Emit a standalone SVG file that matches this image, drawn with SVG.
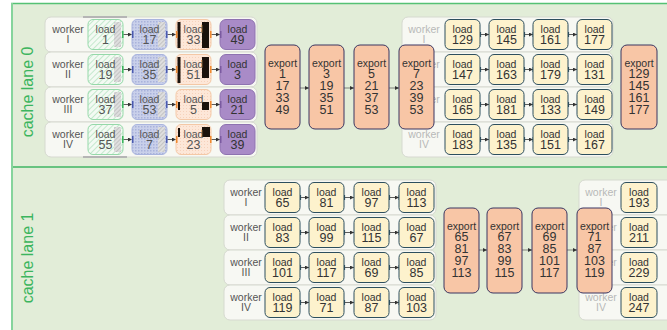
<svg xmlns="http://www.w3.org/2000/svg" width="667" height="330" viewBox="0 0 667 330">
<style>
text{font-family:"Liberation Sans",Arial,sans-serif;text-anchor:middle}
.lane{fill:#e2edd8}
.lt{font-size:16px;fill:#3cb55e}
.row{fill:#f7f8f3;stroke:#d6d9d0;stroke-width:1}
.wk{font-size:10.5px;fill:#555}
.wkf{font-size:10.5px;fill:#b8b8b8}
.ld{fill:#fdf2cd;stroke:#2d4f5e;stroke-width:1}
.c1{fill:url(#pG);stroke:#95d9a9;stroke-width:1}
.c2{fill:url(#pB);stroke:#a9b4de;stroke-width:1}
.c3{fill:url(#pP);stroke:#f4c8a6;stroke-width:1}
.c4{fill:#a98bc7;stroke:#8e72b0;stroke-width:1}
.ex{fill:#f8c6a6;stroke:#3a3560;stroke-width:1}
.t1{font-size:10.5px;fill:#333}
.t2{font-size:12.5px;fill:#333}
.tg{fill:#555}
.cn{stroke:#333;stroke-width:0.8;fill:none;marker-end:url(#ah)}
.cx{stroke:#555;stroke-width:0.7;fill:none;marker-end:url(#ah)}
.pt{fill:#2d4f5e}
.blk{fill:#1a120c}
</style>
<defs>
<marker id="ah" markerUnits="userSpaceOnUse" markerWidth="4" markerHeight="4" refX="4" refY="2" orient="auto"><path d="M0,0 L4,2 L0,4 z" fill="#333"/></marker>
<pattern id="pG" width="4" height="4" patternUnits="userSpaceOnUse" patternTransform="rotate(45)"><rect width="4" height="4" fill="#f3faf3"/><line x1="0" y1="0" x2="0" y2="4" stroke="#a4ddb4" stroke-width="1.2"/></pattern>
<pattern id="pB" width="3" height="3" patternUnits="userSpaceOnUse"><rect width="3" height="3" fill="#c9d0ea"/><rect width="1.5" height="1.5" fill="#a9b3db"/></pattern>
<pattern id="pP" width="3" height="3" patternUnits="userSpaceOnUse"><rect width="3" height="3" fill="#fde7d8"/><rect width="1" height="1" fill="#f6d2bc"/></pattern>
<pattern id="pGr" width="3" height="3" patternUnits="userSpaceOnUse" patternTransform="rotate(45)"><rect width="3" height="3" fill="#dedede"/><line x1="0" y1="0" x2="0" y2="3" stroke="#a8a8a8" stroke-width="1"/></pattern>
</defs>

<g id="lane0">
<rect class="lane" x="11" y="3" width="660" height="164"/>
<line x1="11" y1="3.5" x2="667" y2="3.5" stroke="#55c174" stroke-width="1.5"/>
<text class="lt" transform="translate(33,92) rotate(-90)">cache lane 0</text>
</g>
<g id="lane1">
<rect class="lane" x="11" y="167" width="660" height="170"/>
<line x1="11" y1="167" x2="667" y2="167" stroke="#3fb563" stroke-width="1.5"/>
<text class="lt" transform="translate(33,258) rotate(-90)">cache lane 1</text>
</g>
<line x1="12" y1="3" x2="12" y2="330" stroke="#86d49c" stroke-width="2"/>

<!-- lane 0 left worker group -->
<g id="l0a-rows">
<rect class="row" x="45" y="17" width="212" height="35" rx="6"/>
<rect class="row" x="45" y="52" width="212" height="35" rx="6"/>
<rect class="row" x="45" y="87" width="212" height="35" rx="6"/>
<rect class="row" x="45" y="122" width="212" height="35" rx="6"/>
<rect x="83" y="16" width="44" height="2" fill="#b5b5b5"/>
<rect x="83" y="156" width="44" height="2" fill="#b5b5b5"/>
<text class="wk" x="68" y="32.5">worker</text><text class="wk" x="68" y="42.5">I</text>
<text class="wk" x="68" y="67.5">worker</text><text class="wk" x="68" y="77.5">II</text>
<text class="wk" x="68" y="102.5">worker</text><text class="wk" x="68" y="112.5">III</text>
<text class="wk" x="68" y="137.5">worker</text><text class="wk" x="68" y="147.5">IV</text>
</g>

<g id="l0a-connectors">
<path class="cn" d="M123,34.5 H132"/><path class="cn" d="M167,34.5 H176"/><path class="cn" d="M211,34.5 H220"/>
<path class="cn" d="M123,69.5 H132"/><path class="cn" d="M167,69.5 H176"/><path class="cn" d="M211,69.5 H220"/>
<path class="cn" d="M123,104.5 H132"/><path class="cn" d="M167,104.5 H176"/><path class="cn" d="M211,104.5 H220"/>
<path class="cn" d="M123,139.5 H132"/><path class="cn" d="M167,139.5 H176"/><path class="cn" d="M211,139.5 H220"/>
</g>

<g id="l0a-r1">
<g id="n-1"><rect class="c1" x="88" y="19.5" width="35" height="30" rx="5"/><rect x="114" y="22" width="7" height="25" fill="url(#pGr)"/><text class="t1 tg" x="105.5" y="32.5">load</text><text class="t2 tg" x="105.5" y="44">1</text></g>
<g id="n-17"><rect class="c2" x="132" y="19.5" width="35" height="30" rx="5"/><rect x="158" y="22" width="7" height="25" fill="url(#pGr)"/><text class="t1 tg" x="149.5" y="32.5">load</text><text class="t2 tg" x="149.5" y="44">17</text></g>
<g id="n-33"><rect class="c3" x="176" y="19.5" width="35" height="30" rx="5"/><rect class="blk" x="177.5" y="22" width="3" height="26"/><rect class="blk" x="202" y="22" width="7" height="26"/><text class="t1 tg" x="193.5" y="32.5">load</text><text class="t2 tg" x="193.5" y="44">33</text></g>
<g id="n-49"><rect class="c4" x="220" y="19.5" width="35" height="30" rx="6"/><text class="t1" x="237.5" y="32.5">load</text><text class="t2" x="237.5" y="44">49</text></g>
</g>
<g id="l0a-r2">
<g id="n-19"><rect class="c1" x="88" y="54.5" width="35" height="30" rx="5"/><rect x="114" y="57" width="7" height="25" fill="url(#pGr)"/><text class="t1 tg" x="105.5" y="67.5">load</text><text class="t2 tg" x="105.5" y="79">19</text></g>
<g id="n-35"><rect class="c2" x="132" y="54.5" width="35" height="30" rx="5"/><rect x="158" y="57" width="7" height="25" fill="url(#pGr)"/><text class="t1 tg" x="149.5" y="67.5">load</text><text class="t2 tg" x="149.5" y="79">35</text></g>
<g id="n-51"><rect class="c3" x="176" y="54.5" width="35" height="30" rx="5"/><rect class="blk" x="177.5" y="57" width="3" height="26"/><rect class="blk" x="202" y="57" width="7" height="21"/><text class="t1 tg" x="193.5" y="67.5">load</text><text class="t2 tg" x="193.5" y="79">51</text></g>
<g id="n-3"><rect class="c4" x="220" y="54.5" width="35" height="30" rx="6"/><text class="t1" x="237.5" y="67.5">load</text><text class="t2" x="237.5" y="79">3</text></g>
</g>
<g id="l0a-r3">
<g id="n-37"><rect class="c1" x="88" y="89.5" width="35" height="30" rx="5"/><rect x="114" y="92" width="7" height="25" fill="url(#pGr)"/><text class="t1 tg" x="105.5" y="102.5">load</text><text class="t2 tg" x="105.5" y="114">37</text></g>
<g id="n-53"><rect class="c2" x="132" y="89.5" width="35" height="30" rx="5"/><rect x="158" y="92" width="7" height="25" fill="url(#pGr)"/><text class="t1 tg" x="149.5" y="102.5">load</text><text class="t2 tg" x="149.5" y="114">53</text></g>
<g id="n-5"><rect class="c3" x="176" y="89.5" width="35" height="30" rx="5"/><rect class="blk" x="178" y="102" width="2" height="8"/><rect class="blk" x="202" y="102" width="7" height="8"/><text class="t1 tg" x="193.5" y="102.5">load</text><text class="t2 tg" x="193.5" y="114">5</text></g>
<g id="n-21"><rect class="c4" x="220" y="89.5" width="35" height="30" rx="6"/><text class="t1" x="237.5" y="102.5">load</text><text class="t2" x="237.5" y="114">21</text></g>
</g>
<g id="l0a-r4">
<g id="n-55"><rect class="c1" x="88" y="124.5" width="35" height="30" rx="5"/><rect x="114" y="127" width="7" height="25" fill="url(#pGr)"/><text class="t1 tg" x="105.5" y="137.5">load</text><text class="t2 tg" x="105.5" y="149">55</text></g>
<g id="n-7"><rect class="c2" x="132" y="124.5" width="35" height="30" rx="5"/><rect x="158" y="127" width="7" height="25" fill="url(#pGr)"/><text class="t1 tg" x="149.5" y="137.5">load</text><text class="t2 tg" x="149.5" y="149">7</text></g>
<g id="n-23"><rect class="c3" x="176" y="124.5" width="35" height="30" rx="5"/><rect class="blk" x="178" y="128" width="2" height="9"/><rect class="blk" x="202" y="127" width="8" height="10"/><text class="t1 tg" x="193.5" y="137.5">load</text><text class="t2 tg" x="193.5" y="149">23</text></g>
<g id="n-39"><rect class="c4" x="220" y="124.5" width="35" height="30" rx="6"/><text class="t1" x="237.5" y="137.5">load</text><text class="t2" x="237.5" y="149">39</text></g>
</g>
<g id="l0a-ticks">
<rect x="122" y="31" width="1.5" height="7" fill="#3cb55e"/><rect x="132" y="31" width="1.5" height="7" fill="#4a5ab0"/><rect x="166" y="31" width="1.5" height="7" fill="#4a5ab0"/><rect x="176" y="31" width="1.5" height="7" fill="#f08a30"/><rect x="210" y="31" width="1.5" height="7" fill="#f08a30"/><rect x="220" y="31" width="1.5" height="7" fill="#7a5aa0"/>
<rect x="122" y="66" width="1.5" height="7" fill="#3cb55e"/><rect x="132" y="66" width="1.5" height="7" fill="#4a5ab0"/><rect x="166" y="66" width="1.5" height="7" fill="#4a5ab0"/><rect x="176" y="66" width="1.5" height="7" fill="#f08a30"/><rect x="210" y="66" width="1.5" height="7" fill="#f08a30"/><rect x="220" y="66" width="1.5" height="7" fill="#7a5aa0"/>
<rect x="122" y="101" width="1.5" height="7" fill="#3cb55e"/><rect x="132" y="101" width="1.5" height="7" fill="#4a5ab0"/><rect x="166" y="101" width="1.5" height="7" fill="#4a5ab0"/><rect x="176" y="101" width="1.5" height="7" fill="#f08a30"/><rect x="210" y="101" width="1.5" height="7" fill="#f08a30"/><rect x="220" y="101" width="1.5" height="7" fill="#7a5aa0"/>
<rect x="122" y="136" width="1.5" height="7" fill="#3cb55e"/><rect x="132" y="136" width="1.5" height="7" fill="#4a5ab0"/><rect x="166" y="136" width="1.5" height="7" fill="#4a5ab0"/><rect x="176" y="136" width="1.5" height="7" fill="#f08a30"/><rect x="210" y="136" width="1.5" height="7" fill="#f08a30"/><rect x="220" y="136" width="1.5" height="7" fill="#7a5aa0"/>
</g>

<!-- lane 0 right worker group (faded rows) -->
<g id="l0b-rows">
<rect class="row" x="402" y="17" width="211" height="35" rx="6"/>
<rect class="row" x="402" y="52" width="211" height="35" rx="6"/>
<rect class="row" x="402" y="87" width="211" height="35" rx="6"/>
<rect class="row" x="402" y="122" width="211" height="35" rx="6"/>
<text class="wkf" x="424" y="32.5">worker</text><text class="wkf" x="424" y="42.5">I</text>
<text class="wkf" x="424" y="67.5">worker</text><text class="wkf" x="424" y="77.5">II</text>
<text class="wkf" x="424" y="102.5">worker</text><text class="wkf" x="424" y="112.5">III</text>
<text class="wkf" x="424" y="137.5">worker</text><text class="wkf" x="424" y="147.5">IV</text>
</g>
<g id="l0b-connectors">
<path class="cn" d="M480,34.5 H489"/><path class="cn" d="M524,34.5 H533"/><path class="cn" d="M568,34.5 H577"/>
<path class="cn" d="M480,69.5 H489"/><path class="cn" d="M524,69.5 H533"/><path class="cn" d="M568,69.5 H577"/>
<path class="cn" d="M480,104.5 H489"/><path class="cn" d="M524,104.5 H533"/><path class="cn" d="M568,104.5 H577"/>
<path class="cn" d="M480,139.5 H489"/><path class="cn" d="M524,139.5 H533"/><path class="cn" d="M568,139.5 H577"/>
<rect class="pt" x="479.5" y="32" width="1.6" height="5"/><rect class="pt" x="523.5" y="32" width="1.6" height="5"/><rect class="pt" x="532.5" y="32" width="1.6" height="5"/><rect class="pt" x="567.5" y="32" width="1.6" height="5"/>
<rect class="pt" x="479.5" y="67" width="1.6" height="5"/><rect class="pt" x="523.5" y="67" width="1.6" height="5"/><rect class="pt" x="532.5" y="67" width="1.6" height="5"/><rect class="pt" x="567.5" y="67" width="1.6" height="5"/>
<rect class="pt" x="479.5" y="102" width="1.6" height="5"/><rect class="pt" x="523.5" y="102" width="1.6" height="5"/><rect class="pt" x="532.5" y="102" width="1.6" height="5"/><rect class="pt" x="567.5" y="102" width="1.6" height="5"/>
<rect class="pt" x="479.5" y="137" width="1.6" height="5"/><rect class="pt" x="523.5" y="137" width="1.6" height="5"/><rect class="pt" x="532.5" y="137" width="1.6" height="5"/><rect class="pt" x="567.5" y="137" width="1.6" height="5"/>
</g>
<g id="l0b-r1">
<g id="n-129"><rect class="ld" x="445" y="19.5" width="35" height="30" rx="5"/><text class="t1" x="462.5" y="32.5">load</text><text class="t2" x="462.5" y="44">129</text></g>
<g id="n-145"><rect class="ld" x="489" y="19.5" width="35" height="30" rx="5"/><text class="t1" x="506.5" y="32.5">load</text><text class="t2" x="506.5" y="44">145</text></g>
<g id="n-161"><rect class="ld" x="533" y="19.5" width="35" height="30" rx="5"/><text class="t1" x="550.5" y="32.5">load</text><text class="t2" x="550.5" y="44">161</text></g>
<g id="n-177"><rect class="ld" x="577" y="19.5" width="35" height="30" rx="5"/><text class="t1" x="594.5" y="32.5">load</text><text class="t2" x="594.5" y="44">177</text></g>
</g>
<g id="l0b-r2">
<g id="n-147"><rect class="ld" x="445" y="54.5" width="35" height="30" rx="5"/><text class="t1" x="462.5" y="67.5">load</text><text class="t2" x="462.5" y="79">147</text></g>
<g id="n-163"><rect class="ld" x="489" y="54.5" width="35" height="30" rx="5"/><text class="t1" x="506.5" y="67.5">load</text><text class="t2" x="506.5" y="79">163</text></g>
<g id="n-179"><rect class="ld" x="533" y="54.5" width="35" height="30" rx="5"/><text class="t1" x="550.5" y="67.5">load</text><text class="t2" x="550.5" y="79">179</text></g>
<g id="n-131"><rect class="ld" x="577" y="54.5" width="35" height="30" rx="5"/><text class="t1" x="594.5" y="67.5">load</text><text class="t2" x="594.5" y="79">131</text></g>
</g>
<g id="l0b-r3">
<g id="n-165"><rect class="ld" x="445" y="89.5" width="35" height="30" rx="5"/><text class="t1" x="462.5" y="102.5">load</text><text class="t2" x="462.5" y="114">165</text></g>
<g id="n-181"><rect class="ld" x="489" y="89.5" width="35" height="30" rx="5"/><text class="t1" x="506.5" y="102.5">load</text><text class="t2" x="506.5" y="114">181</text></g>
<g id="n-133"><rect class="ld" x="533" y="89.5" width="35" height="30" rx="5"/><text class="t1" x="550.5" y="102.5">load</text><text class="t2" x="550.5" y="114">133</text></g>
<g id="n-149"><rect class="ld" x="577" y="89.5" width="35" height="30" rx="5"/><text class="t1" x="594.5" y="102.5">load</text><text class="t2" x="594.5" y="114">149</text></g>
</g>
<g id="l0b-r4">
<g id="n-183"><rect class="ld" x="445" y="124.5" width="35" height="30" rx="5"/><text class="t1" x="462.5" y="137.5">load</text><text class="t2" x="462.5" y="149">183</text></g>
<g id="n-135"><rect class="ld" x="489" y="124.5" width="35" height="30" rx="5"/><text class="t1" x="506.5" y="137.5">load</text><text class="t2" x="506.5" y="149">135</text></g>
<g id="n-151"><rect class="ld" x="533" y="124.5" width="35" height="30" rx="5"/><text class="t1" x="550.5" y="137.5">load</text><text class="t2" x="550.5" y="149">151</text></g>
<g id="n-167"><rect class="ld" x="577" y="124.5" width="35" height="30" rx="5"/><text class="t1" x="594.5" y="137.5">load</text><text class="t2" x="594.5" y="149">167</text></g>
</g>

<!-- lane 0 exports -->
<g id="l0-export-connectors">
<path class="cx" d="M300,88 H309"/><path class="cx" d="M344,88 H354"/><path class="cx" d="M389,88 H399"/>
</g>
<g id="ex0-1"><rect class="ex" x="265" y="45" width="35" height="84" rx="6"/><text class="t1" x="282.5" y="66.5">export</text><text class="t2" x="282.5" y="78">1</text><text class="t2" x="282.5" y="90">17</text><text class="t2" x="282.5" y="102">33</text><text class="t2" x="282.5" y="114">49</text></g>
<g id="ex0-2"><rect class="ex" x="309" y="45" width="35" height="84" rx="6"/><text class="t1" x="326.5" y="66.5">export</text><text class="t2" x="326.5" y="78">3</text><text class="t2" x="326.5" y="90">19</text><text class="t2" x="326.5" y="102">35</text><text class="t2" x="326.5" y="114">51</text></g>
<g id="ex0-3"><rect class="ex" x="354" y="45" width="35" height="84" rx="6"/><text class="t1" x="371.5" y="66.5">export</text><text class="t2" x="371.5" y="78">5</text><text class="t2" x="371.5" y="90">21</text><text class="t2" x="371.5" y="102">37</text><text class="t2" x="371.5" y="114">53</text></g>
<g id="ex0-4"><rect class="ex" x="399" y="45" width="35" height="84" rx="6"/><text class="t1" x="416.5" y="66.5">export</text><text class="t2" x="416.5" y="78">7</text><text class="t2" x="416.5" y="90">23</text><text class="t2" x="416.5" y="102">39</text><text class="t2" x="416.5" y="114">53</text></g>
<g id="ex0-5"><rect class="ex" x="621" y="45" width="36" height="84" rx="6"/><text class="t1" x="639" y="66.5">export</text><text class="t2" x="639" y="78">129</text><text class="t2" x="639" y="90">145</text><text class="t2" x="639" y="102">161</text><text class="t2" x="639" y="114">177</text></g>

<!-- lane 1 worker group -->
<g id="l1a-rows">
<rect class="row" x="224" y="180" width="212" height="35" rx="6"/>
<rect class="row" x="224" y="215" width="212" height="35" rx="6"/>
<rect class="row" x="224" y="250" width="212" height="35" rx="6"/>
<rect class="row" x="224" y="285" width="212" height="35" rx="6"/>
<text class="wk" x="246" y="195.5">worker</text><text class="wk" x="246" y="205.5">I</text>
<text class="wk" x="246" y="230.5">worker</text><text class="wk" x="246" y="240.5">II</text>
<text class="wk" x="246" y="265.5">worker</text><text class="wk" x="246" y="275.5">III</text>
<text class="wk" x="246" y="300.5">worker</text><text class="wk" x="246" y="310.5">IV</text>
</g>
<g id="l1a-connectors">
<path class="cn" d="M300,197.5 H309"/><path class="cn" d="M344,197.5 H354"/><path class="cn" d="M389,197.5 H399"/>
<path class="cn" d="M300,232.5 H309"/><path class="cn" d="M344,232.5 H354"/><path class="cn" d="M389,232.5 H399"/>
<path class="cn" d="M300,267.5 H309"/><path class="cn" d="M344,267.5 H354"/><path class="cn" d="M389,267.5 H399"/>
<path class="cn" d="M300,302.5 H309"/><path class="cn" d="M344,302.5 H354"/><path class="cn" d="M389,302.5 H399"/>
<rect class="pt" x="299.5" y="195" width="1.6" height="5"/><rect class="pt" x="343.5" y="195" width="1.6" height="5"/><rect class="pt" x="388.5" y="195" width="1.6" height="5"/><rect class="pt" x="398.5" y="195" width="1.6" height="5"/>
<rect class="pt" x="299.5" y="230" width="1.6" height="5"/><rect class="pt" x="343.5" y="230" width="1.6" height="5"/><rect class="pt" x="388.5" y="230" width="1.6" height="5"/><rect class="pt" x="398.5" y="230" width="1.6" height="5"/>
<rect class="pt" x="299.5" y="265" width="1.6" height="5"/><rect class="pt" x="343.5" y="265" width="1.6" height="5"/><rect class="pt" x="388.5" y="265" width="1.6" height="5"/><rect class="pt" x="398.5" y="265" width="1.6" height="5"/>
<rect class="pt" x="299.5" y="300" width="1.6" height="5"/><rect class="pt" x="343.5" y="300" width="1.6" height="5"/><rect class="pt" x="388.5" y="300" width="1.6" height="5"/><rect class="pt" x="398.5" y="300" width="1.6" height="5"/>
</g>
<g id="l1a-r1">
<g id="n-65"><rect class="ld" x="265" y="182.5" width="35" height="30" rx="5"/><text class="t1" x="282.5" y="195.5">load</text><text class="t2" x="282.5" y="207">65</text></g>
<g id="n-81"><rect class="ld" x="309" y="182.5" width="35" height="30" rx="5"/><text class="t1" x="326.5" y="195.5">load</text><text class="t2" x="326.5" y="207">81</text></g>
<g id="n-97"><rect class="ld" x="354" y="182.5" width="35" height="30" rx="5"/><text class="t1" x="371.5" y="195.5">load</text><text class="t2" x="371.5" y="207">97</text></g>
<g id="n-113"><rect class="ld" x="399" y="182.5" width="35" height="30" rx="5"/><text class="t1" x="416.5" y="195.5">load</text><text class="t2" x="416.5" y="207">113</text></g>
</g>
<g id="l1a-r2">
<g id="n-83"><rect class="ld" x="265" y="217.5" width="35" height="30" rx="5"/><text class="t1" x="282.5" y="230.5">load</text><text class="t2" x="282.5" y="242">83</text></g>
<g id="n-99"><rect class="ld" x="309" y="217.5" width="35" height="30" rx="5"/><text class="t1" x="326.5" y="230.5">load</text><text class="t2" x="326.5" y="242">99</text></g>
<g id="n-115"><rect class="ld" x="354" y="217.5" width="35" height="30" rx="5"/><text class="t1" x="371.5" y="230.5">load</text><text class="t2" x="371.5" y="242">115</text></g>
<g id="n-67"><rect class="ld" x="399" y="217.5" width="35" height="30" rx="5"/><text class="t1" x="416.5" y="230.5">load</text><text class="t2" x="416.5" y="242">67</text></g>
</g>
<g id="l1a-r3">
<g id="n-101"><rect class="ld" x="265" y="252.5" width="35" height="30" rx="5"/><text class="t1" x="282.5" y="265.5">load</text><text class="t2" x="282.5" y="277">101</text></g>
<g id="n-117"><rect class="ld" x="309" y="252.5" width="35" height="30" rx="5"/><text class="t1" x="326.5" y="265.5">load</text><text class="t2" x="326.5" y="277">117</text></g>
<g id="n-69"><rect class="ld" x="354" y="252.5" width="35" height="30" rx="5"/><text class="t1" x="371.5" y="265.5">load</text><text class="t2" x="371.5" y="277">69</text></g>
<g id="n-85"><rect class="ld" x="399" y="252.5" width="35" height="30" rx="5"/><text class="t1" x="416.5" y="265.5">load</text><text class="t2" x="416.5" y="277">85</text></g>
</g>
<g id="l1a-r4">
<g id="n-119"><rect class="ld" x="265" y="287.5" width="35" height="30" rx="5"/><text class="t1" x="282.5" y="300.5">load</text><text class="t2" x="282.5" y="312">119</text></g>
<g id="n-71"><rect class="ld" x="309" y="287.5" width="35" height="30" rx="5"/><text class="t1" x="326.5" y="300.5">load</text><text class="t2" x="326.5" y="312">71</text></g>
<g id="n-87"><rect class="ld" x="354" y="287.5" width="35" height="30" rx="5"/><text class="t1" x="371.5" y="300.5">load</text><text class="t2" x="371.5" y="312">87</text></g>
<g id="n-103"><rect class="ld" x="399" y="287.5" width="35" height="30" rx="5"/><text class="t1" x="416.5" y="300.5">load</text><text class="t2" x="416.5" y="312">103</text></g>
</g>

<!-- lane 1 right faded group -->
<g id="l1b-rows">
<rect class="row" x="579" y="180" width="100" height="35" rx="6"/>
<rect class="row" x="579" y="215" width="100" height="35" rx="6"/>
<rect class="row" x="579" y="250" width="100" height="35" rx="6"/>
<rect class="row" x="579" y="285" width="100" height="35" rx="6"/>
<text class="wkf" x="601" y="195.5">worker</text><text class="wkf" x="601" y="205.5">I</text>
<text class="wkf" x="601" y="230.5">worker</text><text class="wkf" x="601" y="240.5">II</text>
<text class="wkf" x="601" y="265.5">worker</text><text class="wkf" x="601" y="275.5">III</text>
<text class="wkf" x="601" y="300.5">worker</text><text class="wkf" x="601" y="310.5">IV</text>
</g>
<g id="n-193"><rect class="ld" x="621" y="182.5" width="36" height="30" rx="5"/><text class="t1" x="639" y="195.5">load</text><text class="t2" x="639" y="207">193</text></g>
<g id="n-211"><rect class="ld" x="621" y="217.5" width="36" height="30" rx="5"/><text class="t1" x="639" y="230.5">load</text><text class="t2" x="639" y="242">211</text></g>
<g id="n-229"><rect class="ld" x="621" y="252.5" width="36" height="30" rx="5"/><text class="t1" x="639" y="265.5">load</text><text class="t2" x="639" y="277">229</text></g>
<g id="n-247"><rect class="ld" x="621" y="287.5" width="36" height="30" rx="5"/><text class="t1" x="639" y="300.5">load</text><text class="t2" x="639" y="312">247</text></g>

<!-- lane 1 exports -->
<g id="l1-export-connectors">
<path class="cx" d="M479,250 H487"/><path class="cx" d="M522,250 H532"/><path class="cx" d="M567,250 H577"/>
</g>
<g id="ex1-1"><rect class="ex" x="444" y="208" width="35" height="85" rx="6"/><text class="t1" x="461.5" y="229.5">export</text><text class="t2" x="461.5" y="241">65</text><text class="t2" x="461.5" y="253">81</text><text class="t2" x="461.5" y="265">97</text><text class="t2" x="461.5" y="277">113</text></g>
<g id="ex1-2"><rect class="ex" x="487" y="208" width="35" height="85" rx="6"/><text class="t1" x="504.5" y="229.5">export</text><text class="t2" x="504.5" y="241">67</text><text class="t2" x="504.5" y="253">83</text><text class="t2" x="504.5" y="265">99</text><text class="t2" x="504.5" y="277">115</text></g>
<g id="ex1-3"><rect class="ex" x="532" y="208" width="35" height="85" rx="6"/><text class="t1" x="549.5" y="229.5">export</text><text class="t2" x="549.5" y="241">69</text><text class="t2" x="549.5" y="253">85</text><text class="t2" x="549.5" y="265">101</text><text class="t2" x="549.5" y="277">117</text></g>
<g id="ex1-4"><rect class="ex" x="577" y="208" width="35" height="85" rx="6"/><text class="t1" x="594.5" y="229.5">export</text><text class="t2" x="594.5" y="241">71</text><text class="t2" x="594.5" y="253">87</text><text class="t2" x="594.5" y="265">103</text><text class="t2" x="594.5" y="277">119</text></g>
</svg>
